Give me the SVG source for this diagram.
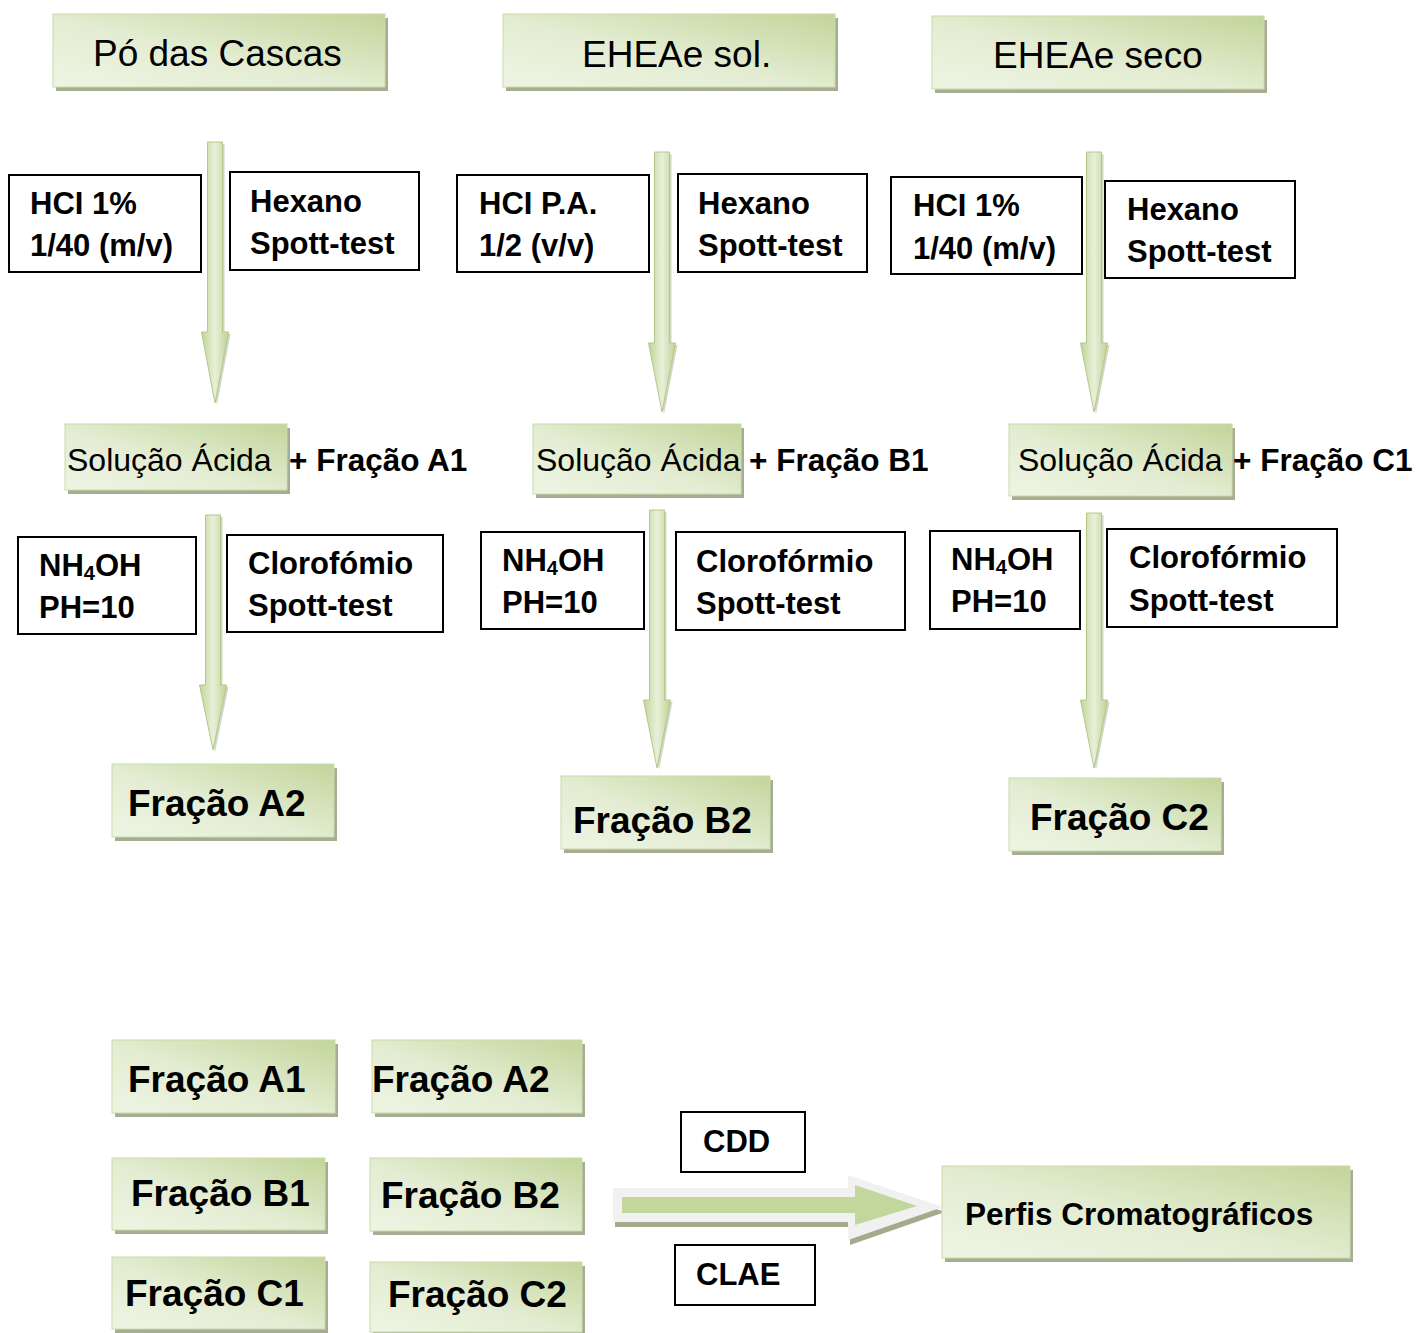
<svg xmlns="http://www.w3.org/2000/svg" width="1416" height="1333" viewBox="0 0 1416 1333">
<defs>
<linearGradient id="gbox" x1="1" y1="0" x2="0" y2="1">
<stop offset="0" stop-color="#c2d59a"/>
<stop offset="0.55" stop-color="#e4edd3"/>
<stop offset="1" stop-color="#eef4e3"/>
</linearGradient>
<linearGradient id="garr" x1="0" y1="0" x2="1" y2="0">
<stop offset="0" stop-color="#c0d496"/>
<stop offset="0.5" stop-color="#e8f0d9"/>
<stop offset="1" stop-color="#bfd394"/>
</linearGradient>
<style>
.sh{fill:#a7ad93}
.gb{fill:url(#gbox);stroke:#cadcaa;stroke-width:1}
.wb{fill:#fff;stroke:#000;stroke-width:2}
.t{font-family:"Liberation Sans",Arial,sans-serif;fill:#000}
.b{font-weight:bold;font-size:31px}
.big{font-weight:bold;font-size:37px}
.reg{font-size:37px}
.sol{font-size:32px}
.pl{font-weight:bold;font-size:31.5px}
.arr{fill:url(#garr);stroke:#b4c88a;stroke-width:1}
.ash{fill:#b3ba9f;opacity:0.6}
</style>
</defs>

<g id="connectors">
<g id="arrow-a1">
<path class="ash" d="M209.5,144 L224.5,144 L224.5,334 L230.5,334 L217,405 L203.5,334 L209.5,334 Z"/>
<path class="arr" d="M207.5,142 L222.5,142 L222.5,332 L228.5,332 L215,403 L201.5,332 L207.5,332 Z"/>
</g>
<g id="arrow-b1">
<path class="ash" d="M656.5,154 L671.5,154 L671.5,345 L677.5,345 L664,414 L650.5,345 L656.5,345 Z"/>
<path class="arr" d="M654.5,152 L669.5,152 L669.5,343 L675.5,343 L662,412 L648.5,343 L654.5,343 Z"/>
</g>
<g id="arrow-c1">
<path class="ash" d="M1088.5,154 L1103.5,154 L1103.5,345 L1109.5,345 L1096,414 L1082.5,345 L1088.5,345 Z"/>
<path class="arr" d="M1086.5,152 L1101.5,152 L1101.5,343 L1107.5,343 L1094,412 L1080.5,343 L1086.5,343 Z"/>
</g>
<g id="arrow-a2">
<path class="ash" d="M207.5,517 L222.5,517 L222.5,687 L228.5,687 L215,752 L201.5,687 L207.5,687 Z"/>
<path class="arr" d="M205.5,515 L220.5,515 L220.5,685 L226.5,685 L213,750 L199.5,685 L205.5,685 Z"/>
</g>
<g id="arrow-b2">
<path class="ash" d="M651.5,512 L666.5,512 L666.5,702 L672.5,702 L659,770 L645.5,702 L651.5,702 Z"/>
<path class="arr" d="M649.5,510 L664.5,510 L664.5,700 L670.5,700 L657,768 L643.5,700 L649.5,700 Z"/>
</g>
<g id="arrow-c2">
<path class="ash" d="M1088.5,515 L1103.5,515 L1103.5,702 L1109.5,702 L1096,770 L1082.5,702 L1088.5,702 Z"/>
<path class="arr" d="M1086.5,513 L1101.5,513 L1101.5,700 L1107.5,700 L1094,768 L1080.5,700 L1086.5,700 Z"/>
</g>
<g id="arrow-final">
<path fill="#a4ab8c" d="M615,1193 L850,1193 L850,1180 L945,1212 L850,1245 L850,1227 L615,1227 Z"/>
<path fill="#f1f1f1" d="M613,1188 L848,1188 L848,1175 L943,1207 L848,1240 L848,1222 L613,1222 Z"/>
<path fill="#c3d69b" d="M622,1197 L855,1197 L855,1185 L917,1206 L855,1225 L855,1213 L622,1213 Z"/>
</g>
</g>

<g id="po-das-cascas">
<rect class="sh" x="56" y="18" width="332" height="73"/>
<rect class="gb" x="53" y="14" width="332" height="73"/>
<text class="t reg" x="93" y="66">Pó das Cascas</text>
</g>
<g id="eheae-sol">
<rect class="sh" x="506" y="18" width="332" height="73"/>
<rect class="gb" x="503" y="14" width="332" height="73"/>
<text class="t reg" x="582" y="67">EHEAe sol.</text>
</g>
<g id="eheae-seco">
<rect class="sh" x="935" y="20" width="332" height="73"/>
<rect class="gb" x="932" y="16" width="332" height="73"/>
<text class="t reg" x="993" y="68">EHEAe seco</text>
</g>

<g id="hci-a">
<rect class="wb" x="9" y="175" width="192" height="97"/>
<text class="t b"><tspan x="30" y="214">HCI 1%</tspan><tspan x="30" y="256">1/40 (m/v)</tspan></text>
</g>
<g id="hexano-a">
<rect class="wb" x="230" y="172" width="189" height="98"/>
<text class="t b"><tspan x="250" y="212">Hexano</tspan><tspan x="250" y="254">Spott-test</tspan></text>
</g>
<g id="hci-b">
<rect class="wb" x="457" y="175" width="192" height="97"/>
<text class="t b"><tspan x="479" y="214">HCI P.A.</tspan><tspan x="479" y="256">1/2 (v/v)</tspan></text>
</g>
<g id="hexano-b">
<rect class="wb" x="678" y="174" width="189" height="98"/>
<text class="t b"><tspan x="698" y="214">Hexano</tspan><tspan x="698" y="256">Spott-test</tspan></text>
</g>
<g id="hci-c">
<rect class="wb" x="891" y="177" width="191" height="97"/>
<text class="t b"><tspan x="913" y="216">HCI 1%</tspan><tspan x="913" y="259">1/40 (m/v)</tspan></text>
</g>
<g id="hexano-c">
<rect class="wb" x="1105" y="181" width="190" height="97"/>
<text class="t b"><tspan x="1127" y="220">Hexano</tspan><tspan x="1127" y="262">Spott-test</tspan></text>
</g>

<g id="solucao-a">
<rect class="sh" x="68" y="428" width="222" height="66"/>
<rect class="gb" x="65" y="424" width="222" height="66"/>
<text class="t sol" x="67" y="471">Solução Ácida</text>
<text class="t pl" x="289" y="471">+ Fração A1</text>
</g>
<g id="solucao-b">
<rect class="sh" x="536" y="428" width="208" height="70"/>
<rect class="gb" x="533" y="424" width="208" height="70"/>
<text class="t sol" x="536" y="471">Solução Ácida</text>
<text class="t pl" x="749" y="471">+ Fração B1</text>
</g>
<g id="solucao-c">
<rect class="sh" x="1012" y="428" width="223" height="72"/>
<rect class="gb" x="1009" y="424" width="223" height="72"/>
<text class="t sol" x="1018" y="471">Solução Ácida</text>
<text class="t pl" x="1233" y="471">+ Fração C1</text>
</g>

<g id="nh4oh-a">
<rect class="wb" x="18" y="537" width="178" height="97"/>
<text class="t b"><tspan x="39" y="576">NH</tspan><tspan font-size="20" dy="4">4</tspan><tspan dy="-4">OH</tspan><tspan x="39" y="618">PH=10</tspan></text>
</g>
<g id="cloro-a">
<rect class="wb" x="227" y="535" width="216" height="97"/>
<text class="t b"><tspan x="248" y="574">Clorofómio</tspan><tspan x="248" y="616">Spott-test</tspan></text>
</g>
<g id="nh4oh-b">
<rect class="wb" x="481" y="532" width="163" height="97"/>
<text class="t b"><tspan x="502" y="571">NH</tspan><tspan font-size="20" dy="4">4</tspan><tspan dy="-4">OH</tspan><tspan x="502" y="613">PH=10</tspan></text>
</g>
<g id="cloro-b">
<rect class="wb" x="676" y="532" width="229" height="98"/>
<text class="t b"><tspan x="696" y="572">Clorofórmio</tspan><tspan x="696" y="614">Spott-test</tspan></text>
</g>
<g id="nh4oh-c">
<rect class="wb" x="930" y="531" width="150" height="98"/>
<text class="t b"><tspan x="951" y="570">NH</tspan><tspan font-size="20" dy="4">4</tspan><tspan dy="-4">OH</tspan><tspan x="951" y="612">PH=10</tspan></text>
</g>
<g id="cloro-c">
<rect class="wb" x="1107" y="529" width="230" height="98"/>
<text class="t b"><tspan x="1129" y="568">Clorofórmio</tspan><tspan x="1129" y="611">Spott-test</tspan></text>
</g>

<g id="fracao-a2">
<rect class="sh" x="115" y="768" width="222" height="73"/>
<rect class="gb" x="112" y="764" width="222" height="73"/>
<text class="t big" x="128" y="816">Fração A2</text>
</g>
<g id="fracao-b2">
<rect class="sh" x="564" y="780" width="209" height="73"/>
<rect class="gb" x="561" y="776" width="209" height="73"/>
<text class="t big" x="573" y="833">Fração B2</text>
</g>
<g id="fracao-c2">
<rect class="sh" x="1012" y="782" width="212" height="73"/>
<rect class="gb" x="1009" y="778" width="212" height="73"/>
<text class="t big" x="1030" y="830">Fração C2</text>
</g>

<g id="b-fracao-a1">
<rect class="sh" x="115" y="1044" width="223" height="73"/>
<rect class="gb" x="112" y="1040" width="223" height="73"/>
<text class="t big" x="128" y="1092">Fração A1</text>
</g>
<g id="b-fracao-a2">
<rect class="sh" x="375" y="1044" width="210" height="73"/>
<rect class="gb" x="372" y="1040" width="210" height="73"/>
<text class="t big" x="372" y="1092">Fração A2</text>
</g>
<g id="b-fracao-b1">
<rect class="sh" x="115" y="1162" width="213" height="72"/>
<rect class="gb" x="112" y="1158" width="213" height="72"/>
<text class="t big" x="131" y="1206">Fração B1</text>
</g>
<g id="b-fracao-b2">
<rect class="sh" x="373" y="1162" width="212" height="73"/>
<rect class="gb" x="370" y="1158" width="212" height="73"/>
<text class="t big" x="381" y="1208">Fração B2</text>
</g>
<g id="b-fracao-c1">
<rect class="sh" x="115" y="1261" width="213" height="72"/>
<rect class="gb" x="112" y="1257" width="213" height="72"/>
<text class="t big" x="125" y="1306">Fração C1</text>
</g>
<g id="b-fracao-c2">
<rect class="sh" x="373" y="1266" width="212" height="70"/>
<rect class="gb" x="370" y="1262" width="212" height="70"/>
<text class="t big" x="388" y="1307">Fração C2</text>
</g>

<g id="cdd">
<rect class="wb" x="681" y="1112" width="124" height="60"/>
<text class="t b" x="703" y="1152">CDD</text>
</g>
<g id="clae">
<rect class="wb" x="675" y="1245" width="140" height="60"/>
<text class="t b" x="696" y="1285">CLAE</text>
</g>
<g id="perfis">
<rect class="sh" x="945" y="1170" width="408" height="92"/>
<rect class="gb" x="942" y="1166" width="408" height="92"/>
<text class="t pl" x="965" y="1225">Perfis Cromatográficos</text>
</g>
</svg>
